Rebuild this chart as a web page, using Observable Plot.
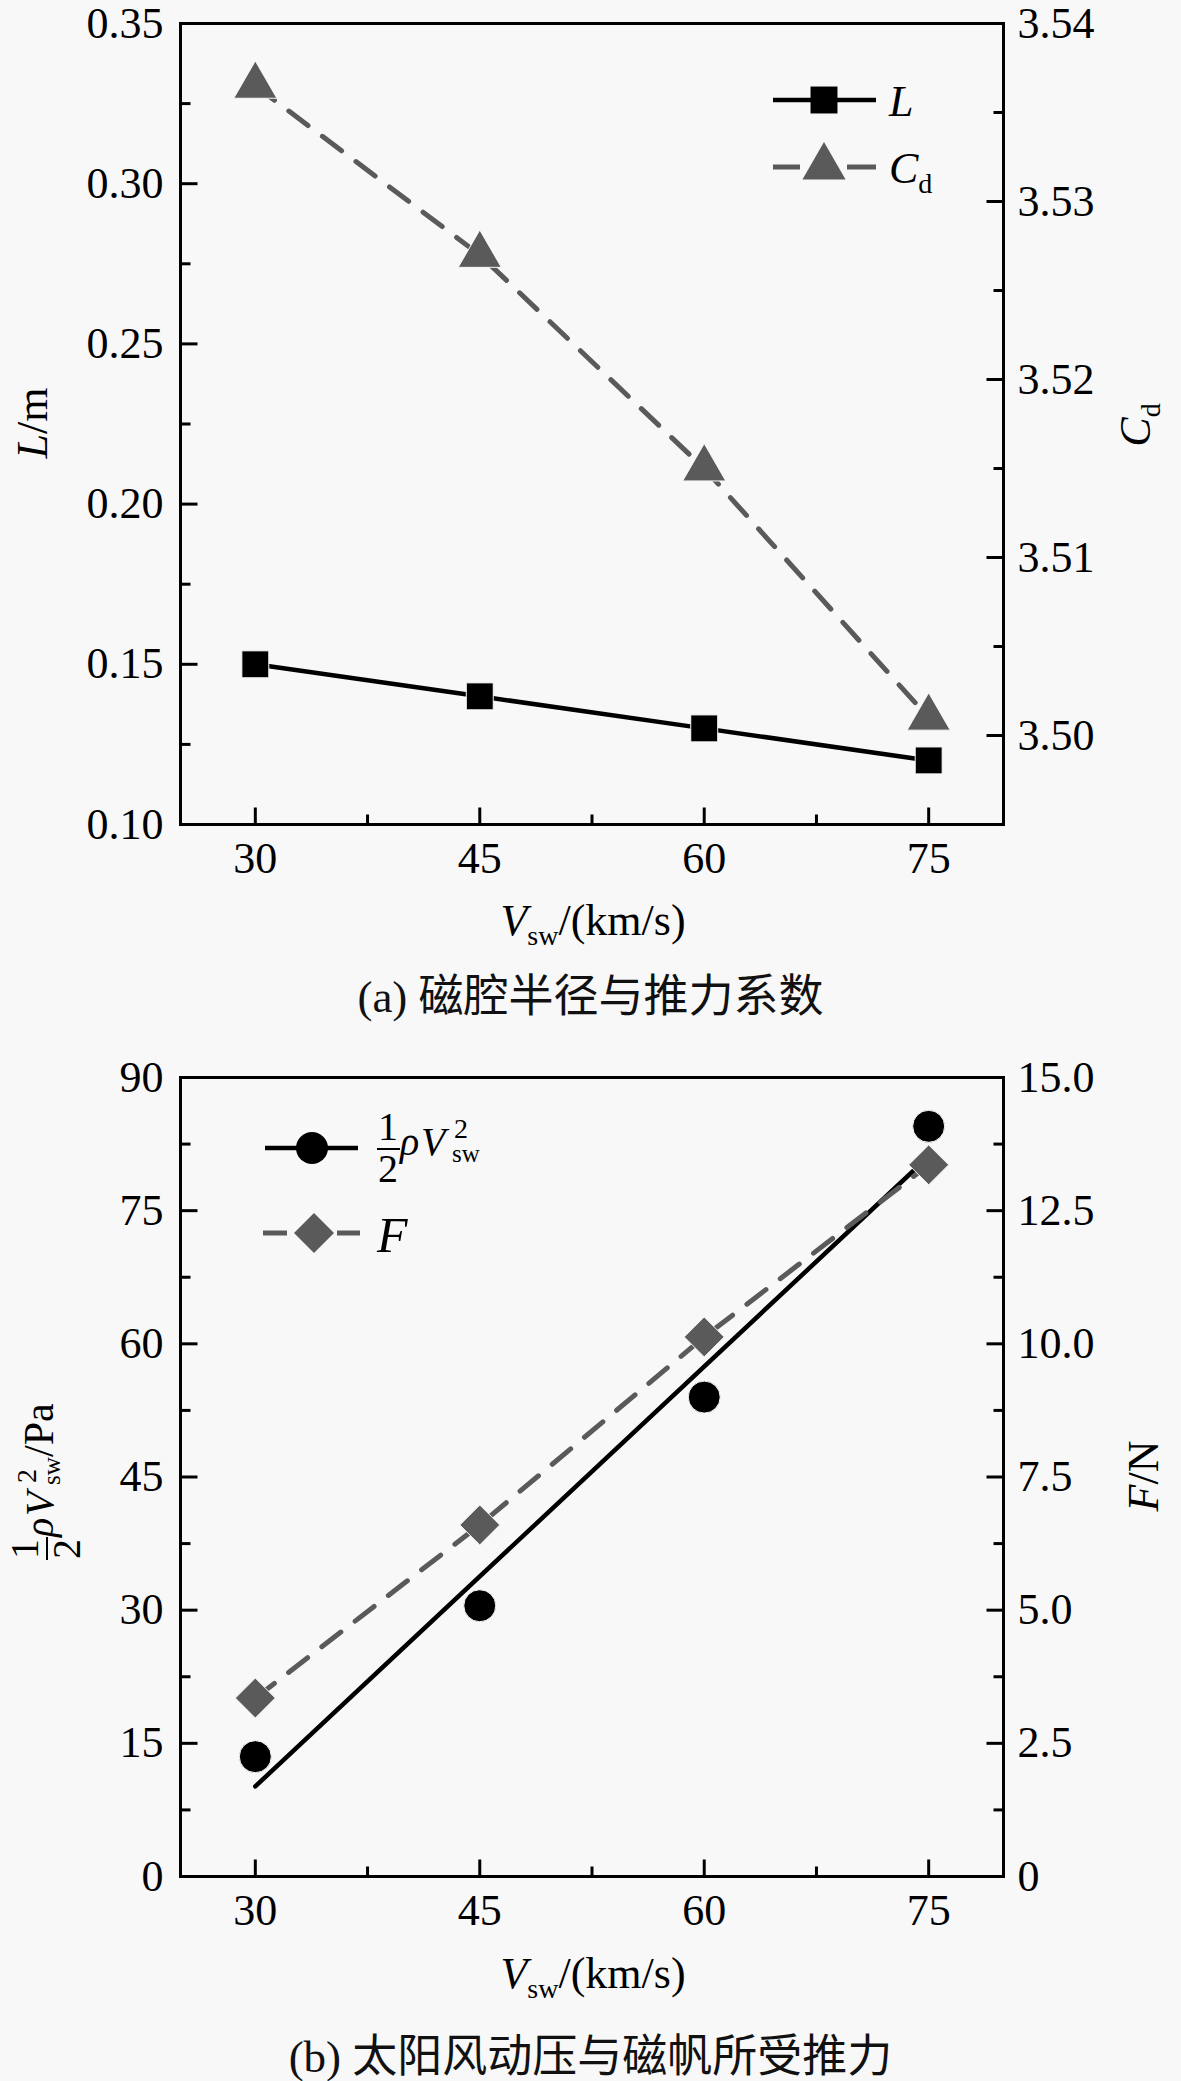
<!DOCTYPE html>
<html><head><meta charset="utf-8">
<script src="https://cdn.jsdelivr.net/npm/d3@7"></script>
<script src="https://cdn.jsdelivr.net/npm/@observablehq/plot@0.6"></script>
<style>
body{margin:0;background:#f8f8f8;}
#wrap{position:relative;width:1181px;height:2081px;overflow:hidden;background:#f8f8f8;}
.plot{position:absolute;left:0;}
svg text, svg tspan{font-family:"Liberation Serif", serif !important;}
.cap{position:absolute;left:0;width:1181px;text-align:center;font-family:"Liberation Serif","Noto Sans CJK SC";font-size:45px;color:#111;}
#overlay{position:absolute;left:0;top:0;pointer-events:none;}
</style></head>
<body><div id="wrap"></div>
<script>
// ---- data ----
const speed = [30, 45, 60, 75];                 // V_sw (km/s)
const radiusL = [0.15, 0.14, 0.13, 0.12];       // L (m)
const dragCd = [3.5365, 3.527, 3.515, 3.501];   // C_d
const pressure = [13.5, 30.5, 54, 84.5];        // 1/2 rho V^2 (Pa)
const thrustF = [3.35, 6.6, 10.13, 13.36];      // F (N)

const xTicks = [30, 45, 60, 75];
const xMinor = [37.5, 52.5, 67.5];
const lTicks = [0.10, 0.15, 0.20, 0.25, 0.30, 0.35];
const lMinor = [0.125, 0.175, 0.225, 0.275, 0.325];
const cdTicks = [3.50, 3.51, 3.52, 3.53, 3.54];
const cdMinor = [3.505, 3.515, 3.525, 3.535];
const pTicks = [0, 15, 30, 45, 60, 75, 90];
const pMinor = [7.5, 22.5, 37.5, 52.5, 67.5, 82.5];
const fTicks = [0, 2.5, 5, 7.5, 10, 12.5, 15];
const fMinor = [1.25, 3.75, 6.25, 8.75, 11.25, 13.75];

const GRAY = "#5a5a5a";
const FONT = "Liberation Serif";
const X_DOMAIN = [25, 80];

const topData = speed.map((v, i) => ({v, L: radiusL[i], cd: dragCd[i]}));
const botData = speed.map((v, i) => ({v, p: pressure[i], f: thrustF[i]}));

const cdToL = d3.scaleLinear([3.495, 3.54], [0.10, 0.35]);
const fToP = d3.scaleLinear([0, 15], [0, 90]);

// inward tick drawn as a plain line segment
const tickShape = {draw(ctx, l) { ctx.moveTo(0, 0); ctx.lineTo(0, -l); }};
function inTicks(values, axis, len, yDomain) {
  const base = {length: len, anchor: "start", shape: tickShape, stroke: "black", strokeWidth: 3, strokeLinecap: "butt"};
  if (axis === "bottom") return Plot.vector(values, {...base, x: d => d, y: () => yDomain[0], rotate: 0});
  if (axis === "left") return Plot.vector(values, {...base, x: () => X_DOMAIN[0], y: d => d, rotate: 90});
  return Plot.vector(values, {...base, x: () => X_DOMAIN[1], y: d => d, rotate: -90});
}

function frameAxes(yDomain, yT, yM, rT, rM, rFmt, lFmt) {
  const tx = {fontFamily: FONT, fontSize: 44, label: null, tickSize: 0};
  return [
    Plot.axisX(xTicks, {anchor: "bottom", tickPadding: 17, tickFormat: d => String(d), ...tx}),
    Plot.axisY(yT, {anchor: "left", tickPadding: 17, tickFormat: lFmt, ...tx}),
    Plot.axisY(rT, {anchor: "right", tickPadding: 14, tickFormat: rFmt, ...tx}),
    inTicks(xTicks, "bottom", 17, yDomain),
    inTicks(xMinor, "bottom", 10, yDomain),
    inTicks(yT, "left", 17, yDomain),
    inTicks(yM, "left", 10, yDomain),
    inTicks(rT, "right", 17, yDomain),
    inTicks(rM, "right", 10, yDomain),
    Plot.frame({stroke: "black", strokeWidth: 3})
  ];
}

const style = {background: "transparent", fontFamily: FONT, fontSize: "44px", color: "black", overflow: "visible"};

const yA = [0.10, 0.35];
const plotA = Plot.plot({
  width: 1181, height: 954,
  marginLeft: 180, marginRight: 178, marginTop: 23, marginBottom: 130,
  style,
  x: {domain: X_DOMAIN},
  y: {domain: yA},
  marks: [
    ...frameAxes(yA, lTicks, lMinor, cdTicks.map(cdToL), cdMinor.map(cdToL),
      d => cdToL.invert(d).toFixed(2), d => d.toFixed(2)),
    Plot.line(topData, {x: "v", y: "L", stroke: "black", strokeWidth: 4.5}),
    Plot.dot(topData, {x: "v", y: "L", symbol: "square", r: 15.2, fill: "black", stroke: "#f8f8f8", strokeWidth: 1}),
    Plot.line(topData, {x: "v", y: d => cdToL(d.cd), stroke: GRAY, strokeWidth: 5, strokeDasharray: "24,18"}),
    Plot.dot(topData, {x: "v", y: d => cdToL(d.cd), symbol: "triangle", r: 16, fill: GRAY, stroke: "#f8f8f8", strokeWidth: 1})
  ]
});

const yB = [0, 90];
const plotB = Plot.plot({
  width: 1181, height: 966,
  marginLeft: 180, marginRight: 178, marginTop: 37, marginBottom: 130,
  style,
  x: {domain: X_DOMAIN},
  y: {domain: yB},
  marks: [
    ...frameAxes(yB, pTicks, pMinor, fTicks.map(fToP), fMinor.map(fToP),
      d => { const f = fToP.invert(d); return Math.abs(f) < 1e-9 ? "0" : f.toFixed(1); }, d => String(d)),
    Plot.linearRegressionY(botData, {x: "v", y: "p", stroke: "black", strokeWidth: 4.5, ci: 0}),
    Plot.line(botData, {x: "v", y: d => fToP(d.f), stroke: GRAY, strokeWidth: 5, strokeDasharray: "24,18"}),
    Plot.dot(botData, {x: "v", y: d => fToP(d.f), symbol: "diamond2", r: 18, fill: GRAY, stroke: "#f8f8f8", strokeWidth: 1}),
    Plot.dot(botData, {x: "v", y: "p", symbol: "circle", r: 16, fill: "black", stroke: "#f8f8f8", strokeWidth: 1})
  ]
});

const wrap = document.getElementById("wrap");
plotA.classList.add("plot"); plotA.style.top = "0px";
plotB.classList.add("plot"); plotB.style.top = "1040px";
wrap.appendChild(plotA);
wrap.appendChild(plotB);

const capA = document.createElement("div");
capA.className = "cap"; capA.style.top = "960px"; capA.style.lineHeight = "74px";
capA.textContent = "(a) 磁腔半径与推力系数";
wrap.appendChild(capA);
const capB = document.createElement("div");
capB.className = "cap"; capB.style.top = "2020px"; capB.style.lineHeight = "74px";
capB.textContent = "(b) 太阳风动压与磁帆所受推力";
wrap.appendChild(capB);

// ---- overlay: legends and axis titles with sub/superscripts ----
const ov = d3.select(wrap).append("svg").attr("id", "overlay")
  .attr("width", 1181).attr("height", 2081)
  .style("font-family", FONT).style("fill", "black");

function sym(type, r) { return d3.symbol(type, r * r * Math.PI)(); }

// legend (a)
ov.append("line").attr("x1", 773).attr("x2", 876).attr("y1", 100).attr("y2", 100).attr("stroke", "black").attr("stroke-width", 4.5);
ov.append("path").attr("d", sym(d3.symbolSquare, 15.2)).attr("transform", "translate(824,100)").attr("fill", "black");
ov.append("text").attr("x", 889).attr("y", 116).attr("font-size", 44).attr("font-style", "italic").text("L");
[[773, 800], [847, 876]].forEach(([a, b]) => ov.append("line").attr("x1", a).attr("x2", b).attr("y1", 167).attr("y2", 167).attr("stroke", GRAY).attr("stroke-width", 5));
ov.append("path").attr("d", sym(d3.symbolTriangle, 16)).attr("transform", "translate(824,167)").attr("fill", GRAY);
const cdT = ov.append("text").attr("x", 889).attr("y", 183).attr("font-size", 44);
cdT.append("tspan").attr("font-style", "italic").text("C");
cdT.append("tspan").attr("font-size", 28).attr("dy", 10).text("d");

// legend (b)
ov.append("line").attr("x1", 265).attr("x2", 358).attr("y1", 1148).attr("y2", 1148).attr("stroke", "black").attr("stroke-width", 4.5);
ov.append("path").attr("d", sym(d3.symbolCircle, 16)).attr("transform", "translate(312,1148)").attr("fill", "black");
[[263, 287], [337, 360]].forEach(([a, b]) => ov.append("line").attr("x1", a).attr("x2", b).attr("y1", 1233).attr("y2", 1233).attr("stroke", GRAY).attr("stroke-width", 5));
ov.append("path").attr("d", sym(d3.symbolDiamond2, 18)).attr("transform", "translate(314,1233)").attr("fill", GRAY);
ov.append("text").attr("x", 377).attr("y", 1252).attr("font-size", 50).attr("font-style", "italic").text("F");

// 1/2 rho V^2_sw expression, drawn relative to (x0, V baseline)
function pressureExpr(g, x0, base, tail) {
  g.append("text").attr("x", x0 + 11).attr("y", base - 15).attr("font-size", 40).attr("text-anchor", "middle").text("1");
  g.append("line").attr("x1", x0).attr("x2", x0 + 23).attr("y1", base - 6).attr("y2", base - 6).attr("stroke", "black").attr("stroke-width", 2);
  g.append("text").attr("x", x0 + 11).attr("y", base + 27).attr("font-size", 40).attr("text-anchor", "middle").text("2");
  g.append("text").attr("x", x0 + 23).attr("y", base).attr("font-size", 40).attr("font-style", "italic").text("ρ");
  g.append("text").attr("x", x0 + 44).attr("y", base).attr("font-size", 40).attr("font-style", "italic").text("V");
  g.append("text").attr("x", x0 + 77).attr("y", base - 17).attr("font-size", 28).text("2");
  g.append("text").attr("x", x0 + 75).attr("y", base + 7).attr("font-size", 25).text("sw");
  if (tail) g.append("text").attr("x", x0 + 103).attr("y", base).attr("font-size", 42).text(tail);
}
pressureExpr(ov.append("g"), 377, 1155, null);

// x-axis titles
function xTitle(y) {
  const t = ov.append("text").attr("x", 593).attr("y", y).attr("font-size", 44).attr("text-anchor", "middle");
  t.append("tspan").attr("font-style", "italic").text("V");
  t.append("tspan").attr("font-size", 28).attr("dy", 10).text("sw");
  t.append("tspan").attr("dy", -10).text("/(km/s)");
}
xTitle(935);
xTitle(1988);

// y-axis titles
function rotTitle(x, y, parts) {
  const t = ov.append("text").attr("transform", `translate(${x},${y}) rotate(-90)`).attr("font-size", 44).attr("text-anchor", "middle");
  parts.forEach(([s, opt]) => {
    const sp = t.append("tspan").text(s);
    if (opt && opt.i) sp.attr("font-style", "italic");
    if (opt && opt.fs) sp.attr("font-size", opt.fs);
    if (opt && opt.dy) sp.attr("dy", opt.dy);
  });
}
rotTitle(47, 423, [["L", {i: 1}], ["/m"]]);
rotTitle(1150, 425, [["C", {i: 1}], ["d", {fs: 28, dy: 10}]]);
rotTitle(1158, 1476, [["F", {i: 1}], ["/N"]]);
const pg = ov.append("g").attr("transform", "translate(53,1480) rotate(-90)");
pressureExpr(pg, -80, 0, "/Pa");
</script>
</body></html>
